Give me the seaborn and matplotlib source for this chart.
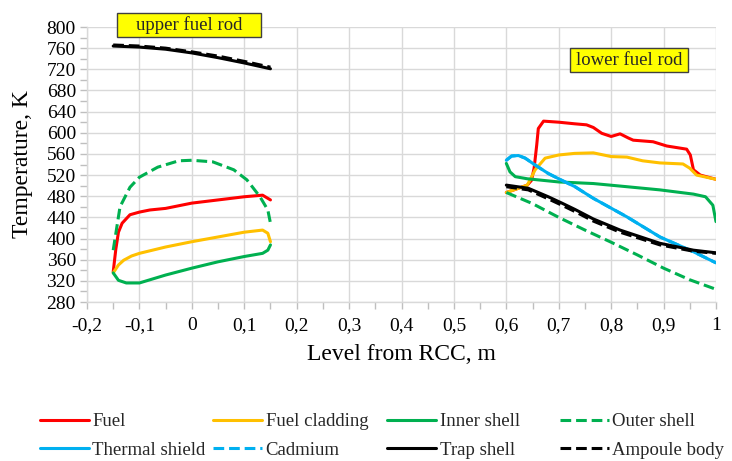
import numpy as np
import pandas as pd
import matplotlib
matplotlib.use("Agg")
import matplotlib.pyplot as plt
from matplotlib.lines import Line2D
from matplotlib.patches import Rectangle
from matplotlib.ticker import MultipleLocator, FuncFormatter
import seaborn as sns

# --- Data (level in m, temperature in K)
# upper fuel rod
fuel_up_x = [-0.15, -0.145, -0.14, -0.133, -0.118, -0.1, -0.08, -0.05, 0.0, 0.05, 0.1, 0.135, 0.15]
fuel_up_t = [337, 380, 412, 429, 445, 450, 454, 457, 467, 473, 479, 482, 473]

clad_up_x = [-0.15, -0.14, -0.13, -0.115, -0.1, -0.05, 0.0, 0.05, 0.1, 0.135, 0.145, 0.15]
clad_up_t = [335, 350, 359, 367, 372, 384, 394, 403, 412, 416, 410, 394]

inner_up_x = [-0.15, -0.14, -0.125, -0.1, -0.05, 0.0, 0.05, 0.1, 0.135, 0.145, 0.15]
inner_up_t = [335, 321, 316, 316, 331, 344, 356, 366, 372, 378, 388]

outer_up_x = [-0.15, -0.137, -0.118, -0.1, -0.065, -0.025, 0.0, 0.04, 0.08, 0.105, 0.13, 0.145, 0.15]
outer_up_t = [378, 460, 497, 516, 535, 547, 548, 545, 530, 511, 479, 454, 429]

trap_up_x = [-0.15, -0.1, -0.05, 0.0, 0.05, 0.1, 0.15]
trap_up_t = [764, 762, 758, 751, 742, 732, 721]
amp_up_t = [766, 764, 760, 753, 745, 735, 724]

# lower fuel rod
fuel_lo_x = [0.6, 0.62, 0.64, 0.648, 0.653, 0.658, 0.661, 0.671, 0.7, 0.73, 0.753, 0.766,
             0.782, 0.8, 0.817, 0.833, 0.842, 0.88, 0.906, 0.944, 0.951, 0.957, 0.97, 1.0]
fuel_lo_t = [487, 494, 501, 510, 533, 577, 608, 622, 620, 617, 615, 610,
             599, 593, 598, 590, 586, 583, 575, 569, 558, 530, 520, 512]

clad_lo_x = [0.6, 0.62, 0.64, 0.655, 0.674, 0.7, 0.73, 0.766, 0.8, 0.83, 0.86, 0.893, 0.937, 0.95, 0.963, 1.0]
clad_lo_t = [487, 494, 501, 530, 552, 558, 561, 562, 555, 554, 547, 543, 541, 533, 520, 512]

inner_lo_x = [0.6, 0.607, 0.617, 0.64, 0.7, 0.766, 0.83, 0.893, 0.957, 0.98, 0.994, 1.0]
inner_lo_t = [542, 526, 517, 513, 507, 504, 498, 492, 484, 479, 463, 432]

outer_lo_x = [0.6, 0.65, 0.7, 0.75, 0.8, 0.85, 0.9, 0.95, 1.0]
outer_lo_t = [487, 466, 440, 416, 393, 369, 344, 322, 304]

therm_lo_x = [0.6, 0.61, 0.623, 0.636, 0.655, 0.68, 0.706, 0.731, 0.766, 0.83, 0.893, 0.957, 1.0]
therm_lo_t = [548, 556, 557, 552, 539, 523, 510, 498, 476, 441, 403, 375, 354]
cadm_lo_t = [548, 556, 557, 552, 539, 523, 510, 498, 476, 441, 403, 375, 354]

trap_lo_x = [0.6, 0.642, 0.68, 0.706, 0.731, 0.766, 0.817, 0.893, 0.957, 1.0]
trap_lo_t = [501, 495, 479, 467, 455, 437, 416, 391, 378, 373]
amp_lo_t = [498, 492, 475, 463, 451, 433, 412, 388, 376, 372]

names = ["Fuel", "Fuel cladding", "Inner shell", "Outer shell",
         "Thermal shield", "Cadmium", "Trap shell", "Ampoule body"]
colors = ["#FF0000", "#FFC000", "#00B050", "#00B050",
          "#00B0F0", "#00B0F0", "#000000", "#000000"]
dashed = [False, False, False, True, False, True, False, True]

segments = {
    "Fuel": [(fuel_up_x, fuel_up_t), (fuel_lo_x, fuel_lo_t)],
    "Fuel cladding": [(clad_up_x, clad_up_t), (clad_lo_x, clad_lo_t)],
    "Inner shell": [(inner_up_x, inner_up_t), (inner_lo_x, inner_lo_t)],
    "Outer shell": [(outer_up_x, outer_up_t), (outer_lo_x, outer_lo_t)],
    "Thermal shield": [(therm_lo_x, therm_lo_t)],
    "Cadmium": [(therm_lo_x, cadm_lo_t)],
    "Trap shell": [(trap_up_x, trap_up_t), (trap_lo_x, trap_lo_t)],
    "Ampoule body": [(trap_up_x, amp_up_t), (trap_lo_x, amp_lo_t)],
}

sns.set_theme(style="white")
plt.rcParams["font.family"] = ["Liberation Serif", "DejaVu Serif"]

fig = plt.figure(figsize=(7.32, 4.61), dpi=100)
ax = fig.add_axes([87 / 732, 1 - 302 / 461, (716 - 87) / 732, (302 - 27) / 461])

dash = (0, (3.5, 1.6))
lw = 2.2
for name, col, d in zip(names, colors, dashed):
    for xs, ts in segments[name]:
        seg = pd.DataFrame({"level": xs, "temp": ts})
        sns.lineplot(data=seg, x="level", y="temp", ax=ax, color=col, lw=lw,
                     linestyle=dash if d else "-", estimator=None, sort=False)

ax.set_xlim(-0.2, 1.0)
ax.set_ylim(280, 800)
ax.xaxis.set_major_locator(MultipleLocator(0.1))
ax.xaxis.set_minor_locator(MultipleLocator(0.05))
ax.yaxis.set_major_locator(MultipleLocator(40))
ax.yaxis.set_minor_locator(MultipleLocator(20))


def comma_fmt(v, pos):
    if abs(v) < 1e-9:
        return "0"
    if abs(v - round(v)) < 1e-9:
        return str(int(round(v)))
    return f"{v:.1f}".replace(".", ",")


ax.xaxis.set_major_formatter(FuncFormatter(comma_fmt))
ax.grid(True, which="major", color="#D9D9D9", lw=1)
ax.tick_params(which="both", direction="out", color="#BFBFBF", length=5, width=1,
               labelsize=14, labelcolor="black", bottom=True, left=True)
ax.tick_params(axis="x", pad=6)
ax.tick_params(axis="y", pad=3)
for s in ["top", "right"]:
    ax.spines[s].set_visible(False)
for s in ["left", "bottom"]:
    ax.spines[s].set_color("#D9D9D9")
    ax.spines[s].set_linewidth(1)

ax.set_xlabel("Level from RCC, m", fontsize=17, color="black", labelpad=7)
ax.set_ylabel("Temperature, K", fontsize=17, color="black", labelpad=10)

# label boxes
ax.add_patch(Rectangle((-0.143, 781), 0.275, 45, fc="#FFFF00", ec="#404040", lw=1,
                       clip_on=False, zorder=5))
ax.text(-0.005, 803, "upper fuel rod", ha="center", va="center", fontsize=13.5, zorder=6)
ax.add_patch(Rectangle((0.722, 715), 0.225, 45, fc="#FFFF00", ec="#404040", lw=1,
                       clip_on=False, zorder=5))
ax.text(0.834, 737, "lower fuel rod", ha="center", va="center", fontsize=13.5, zorder=6)

# legend: four columns of two entries
handles = [Line2D([], [], color=c, lw=lw, linestyle=dash if d else "-")
           for c, d in zip(colors, dashed)]
col_x = [40, 213, 387, 560]
for i, x0 in enumerate(col_x):
    fig.legend([handles[i], handles[i + 4]], [names[i], names[i + 4]],
               loc="center left", bbox_to_anchor=(x0 / 732, 1 - 436 / 461),
               frameon=False, fontsize=13.5, handlelength=2.6, handletextpad=0.2,
               borderpad=0, borderaxespad=0, labelspacing=0.62)

fig.savefig("out.png", dpi=100)
